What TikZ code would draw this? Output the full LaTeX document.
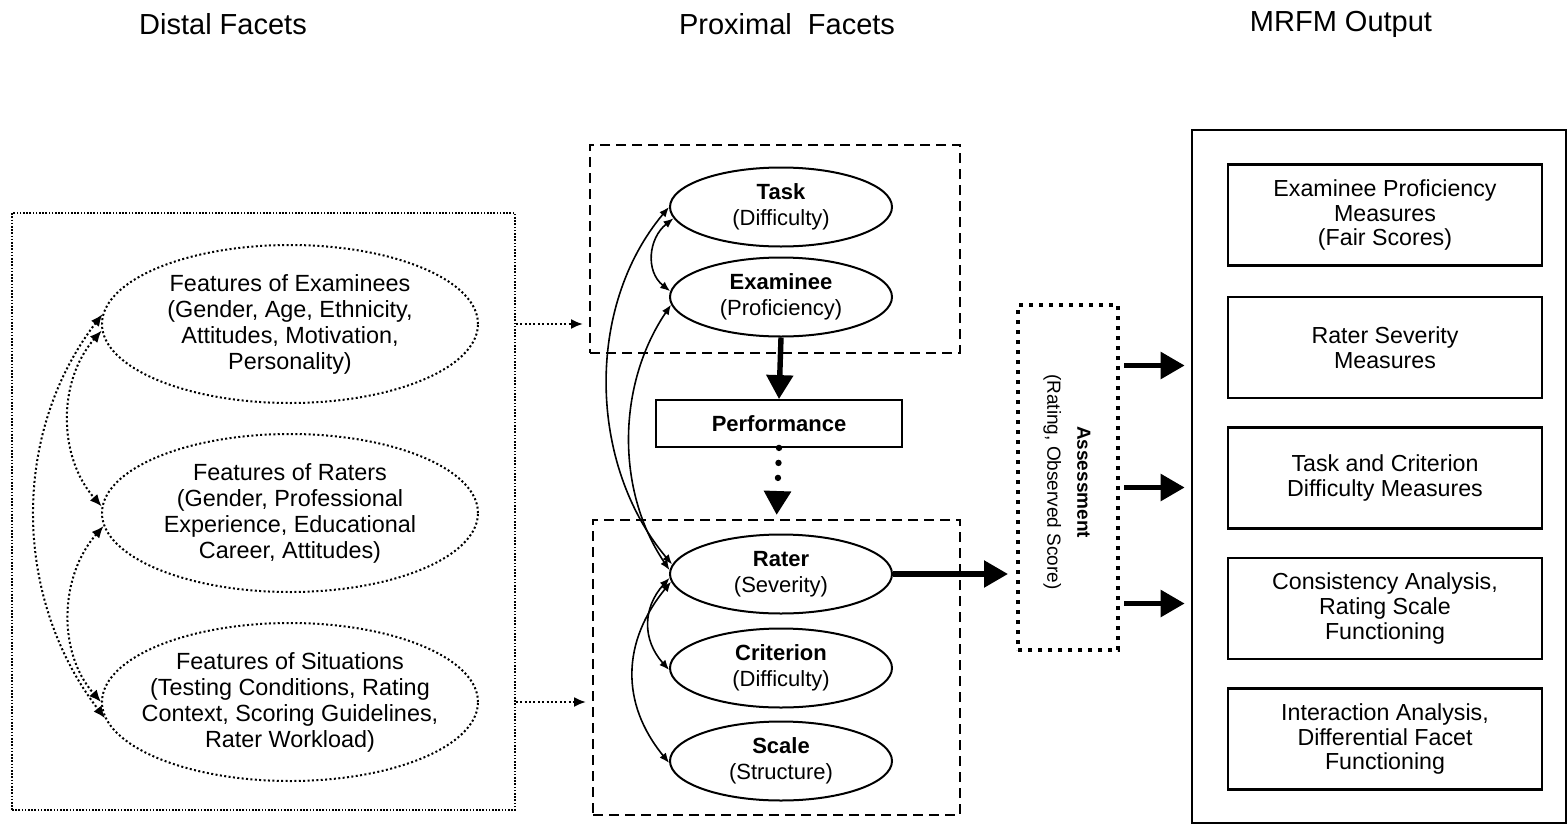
\documentclass[tikz,border=0pt]{standalone}
\usepackage{fontspec}
\setmainfont{Liberation Sans}
\usetikzlibrary{shapes.geometric,arrows.meta}

\begin{document}
\begin{tikzpicture}[x=0.5pt,y=0.5pt,
  every node/.style={font=\fontsize{11}{13}\selectfont},
  heading/.style={font=\fontsize{14.5}{16}\selectfont},
  distal/.style={ellipse, draw, line width=1pt, dash pattern=on 1pt off 1.2pt, minimum width=188pt, minimum height=79pt, inner sep=0pt, inner xsep=-9pt, align=center, font=\fontsize{11.7}{13}\selectfont},
  facet/.style={ellipse, draw, line width=1pt, minimum width=111pt, minimum height=39.5pt, inner sep=0pt, align=center},
  dashbox/.style={draw, line width=1pt, dash pattern=on 5pt off 3pt},
  outbox/.style={draw, line width=1.2pt, minimum width=157pt, minimum height=50.5pt, inner sep=0pt, align=center, font=\fontsize{11.6}{12.3}\selectfont},
  dotarc/.style={line width=1pt, dash pattern=on 1pt off 1.2pt, {Latex[length=6pt,width=5pt]}-{Latex[length=6pt,width=5pt]}},
  thinarc/.style={line width=0.8pt, {Latex[length=5pt,width=4pt]}-{Latex[length=5pt,width=4pt]}},
  fat/.style={line width=2.7pt, -{Triangle[length=12pt,width=13pt]}}]
\useasboundingbox (0,0) rectangle (1568,-825);

% headings
\node[heading] (hdist) at (223,-24) {Distal Facets};
\node[heading] (hprox) at (787,-24) {Proximal~ Facets};
\node[heading] (hmrfm) at (1341,-24) {MRFM Output};

% distal facets
\node[draw, line width=0.8pt, dash pattern=on 0.8pt off 0.8pt, minimum width=251.5pt, minimum height=298.5pt] (dbox) at (263.5,-511.5) {};
\node[distal] (fexam) at (290,-324) {Features of Examinees\\(Gender, Age, Ethnicity,\\Attitudes, Motivation,\\Personality)};
\node[distal] (frater) at (290,-513) {Features of Raters\\(Gender, Professional\\Experience, Educational\\Career, Attitudes)};
\node[distal] (fsit) at (290,-702) {Features of Situations\\(Testing Conditions, Rating\\Context, Scoring Guidelines,\\Rater Workload)};
\draw[dotarc] (fexam.177) .. controls +(-92,-120) and +(-92,120) .. (fsit.185);
\draw[dotarc] (fexam.182) .. controls +(-44,-50) and +(-44,50) .. (frater.178);
\draw[dotarc] (frater.184) .. controls +(-44,-50) and +(-44,50) .. (fsit.180);

% proximal facets
\node[dashbox, minimum width=185pt, minimum height=104pt] (pbox) at (775,-249) {};
\node[dashbox, minimum width=183.5pt, minimum height=147.5pt] (rbox) at (776.5,-667.5) {};
\node[facet] (task) at (781,-207) {\textbf{Task}\\(Difficulty)};
\node[facet] (exam) at (781,-297) {\textbf{Examinee}\\(Proficiency)};
\node[draw, line width=0.9pt, minimum width=123pt, minimum height=23.5pt] (perf) at (779,-423.5) {\textbf{Performance}};
\node[facet] (rater) at (781,-574) {\textbf{Rater}\\(Severity)};
\node[facet] (crit) at (781,-668) {\textbf{Criterion}\\(Difficulty)};
\node[facet] (scal) at (781,-761) {\textbf{Scale}\\(Structure)};
\draw[thinarc] (task.186) .. controls +(-25,-20) and +(-25,20) .. (exam.177);
\draw[thinarc] (task.180) .. controls +(-84,-100) and +(-84,100) .. (rater.175);
\draw[thinarc] (exam.184) .. controls +(-54,-80) and +(-54,80) .. (rater.178);
\draw[thinarc] (rater.182) .. controls +(-27,-30) and +(-27,30) .. (crit.181);
\draw[thinarc] (rater.184) .. controls +(-49,-60) and +(-49,60) .. (scal.181);
\draw[fat] (exam.south) -- (perf.north);
\draw[fat, line width=3.2pt, dash pattern=on 0pt off 7.5pt, line cap=round, shorten >=2pt] (perf.south) -- (rbox.north);

% distal -> proximal
\draw[line width=1pt, dash pattern=on 1pt off 1.2pt, -{Latex[length=6pt,width=5pt]}, shorten >=3pt] (dbox.east |- fexam) -- (pbox.west |- fexam);
\draw[line width=1pt, dash pattern=on 1pt off 1.2pt, -{Latex[length=6pt,width=5pt]}, shorten >=3pt] (dbox.east |- fsit) -- (rbox.west |- fsit);

% assessment
\node[draw, line width=2pt, dash pattern=on 2pt off 3pt, minimum width=50pt, minimum height=172.5pt] (assess) at (1068,-477.5) {};
\node[rotate=-90, align=center, font=\fontsize{9.5}{15}\selectfont] (atext) at (1067,-482) {\textbf{Assessment}\\(Rating, Observed Score)};
\draw[fat, shorten >=4pt] (rater.east) -- (assess.west |- rater.east);

% MRFM output
\node[draw, line width=1.3pt, minimum width=187pt, minimum height=346.5pt] (output) at (1379,-476.5) {};
\node[outbox] (o1) at (1385,-215) {Examinee Proficiency\\Measures\\(Fair Scores)};
\node[outbox] (o2) at (1385,-347.5) {Rater Severity\\Measures};
\node[outbox] (o3) at (1385,-478) {Task and Criterion\\Difficulty Measures};
\node[outbox] (o4) at (1385,-608.5) {Consistency Analysis,\\Rating Scale\\Functioning};
\node[outbox] (o5) at (1385,-739) {Interaction Analysis,\\Differential Facet\\Functioning};
\coordinate (a1) at ([yshift=56pt]assess.east);
\coordinate (a2) at ([yshift=-5pt]assess.east);
\coordinate (a3) at ([yshift=-63pt]assess.east);
\draw[fat, shorten <=2pt, shorten >=3pt] (a1) -- (a1 -| output.west);
\draw[fat, shorten <=2pt, shorten >=3pt] (a2) -- (a2 -| output.west);
\draw[fat, shorten <=2pt, shorten >=3pt] (a3) -- (a3 -| output.west);
\end{tikzpicture}
\end{document}
